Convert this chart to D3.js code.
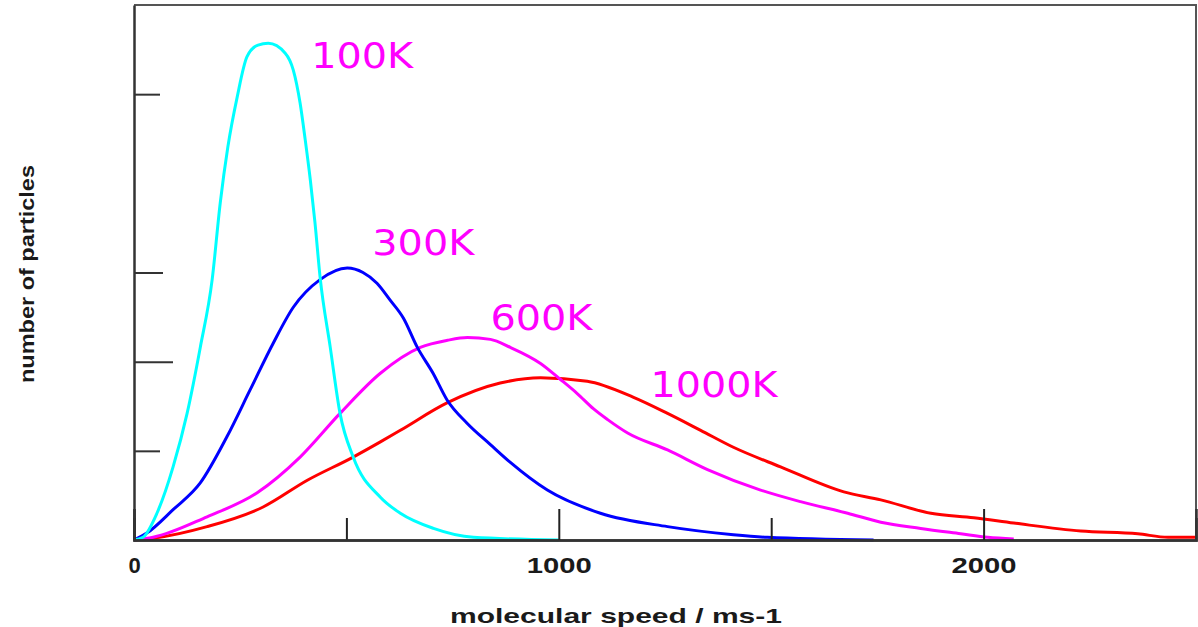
<!DOCTYPE html>
<html>
<head>
<meta charset="utf-8">
<script src="https://cdn.jsdelivr.net/npm/d3@7"></script>
<style>
  body { margin: 0; background: #fff; }
  svg { display: block; }
</style>
</head>
<body>
<svg width="1198" height="627"></svg>
<script>
// speeds (m/s) and relative particle counts
var speed100 = [0, 21, 54, 92, 125, 156, 184, 203, 221, 243, 266, 292, 316, 356, 375, 391, 403, 415, 426, 438, 462, 485, 516, 580, 627, 705, 799, 1000];
var count100 = [0, 0.03, 0.30, 0.82, 1.42, 2.16, 2.92, 3.78, 4.41, 4.97, 5.42, 5.55, 5.57, 5.46, 5.27, 4.90, 4.49, 4.04, 3.56, 2.95, 2.16, 1.42, 0.93, 0.48, 0.30, 0.13, 0.03, 0];

var speed300 = [0, 31, 92, 156, 219, 273, 328, 375, 438, 502, 539, 572, 603, 634, 667, 704, 737, 784, 839, 886, 973, 1098, 1256, 1411, 1491, 1741];
var count300 = [0, 0.08, 0.34, 0.64, 1.16, 1.68, 2.21, 2.61, 2.92, 3.05, 3.00, 2.88, 2.69, 2.49, 2.16, 1.87, 1.57, 1.31, 1.07, 0.87, 0.56, 0.30, 0.15, 0.06, 0.03, 0];

var speed600 = [0, 45, 172, 290, 391, 485, 580, 674, 738, 785, 839, 886, 957, 1004, 1044, 1082, 1115, 1162, 1256, 1350, 1475, 1569, 1680, 1758, 1852, 1946, 2010, 2071];
var count600 = [0, 0.03, 0.26, 0.53, 0.93, 1.42, 1.87, 2.16, 2.24, 2.27, 2.25, 2.16, 1.98, 1.80, 1.64, 1.47, 1.35, 1.20, 1.01, 0.79, 0.56, 0.43, 0.30, 0.20, 0.13, 0.07, 0.03, 0.01];

var speed1000 = [0, 45, 172, 304, 408, 516, 580, 627, 738, 862, 957, 1067, 1176, 1256, 1334, 1411, 1522, 1671, 1758, 1876, 1977, 2071, 2229, 2363, 2434, 2500];
var count1000 = [0, 0.02, 0.15, 0.37, 0.67, 0.93, 1.10, 1.23, 1.54, 1.76, 1.82, 1.78, 1.60, 1.42, 1.23, 1.04, 0.82, 0.54, 0.45, 0.30, 0.25, 0.19, 0.10, 0.07, 0.03, 0.03];

var seriesNames = ["100K", "300K", "600K", "1000K"];
var seriesColors = ["#00ffff", "#0000ff", "#ff00ff", "#ff0000"];
// where each label starts (speed, count)
var labelAt = [[417, 5.29], [561, 3.20], [839, 2.36], [1216, 1.60]];

var xMajor = [0, 1000, 2000];
var xMinor = [500, 1500];
var yTicks = [1, 2, 3, 5];

var svg = d3.select("svg"),
    margin = {top: 5, right: 2, bottom: 87, left: 134},
    width = +svg.attr("width") - margin.left - margin.right,
    height = +svg.attr("height") - margin.top - margin.bottom;

var x = d3.scaleLinear().domain([0, 2500]).range([0, width]);
var y = d3.scaleLinear().domain([0, 6]).range([height, 0]);

var g = svg.append("g")
    .attr("transform", "translate(" + margin.left + "," + margin.top + ")");

// frame (top + right)
g.append("path")
    .attr("d", "M0,0H" + x(2500) + "V" + y(0))
    .attr("fill", "none")
    .attr("stroke", "#555")
    .attr("stroke-width", 2);

var all = [
  {name: seriesNames[0], color: seriesColors[0], sp: speed100, n: count100},
  {name: seriesNames[1], color: seriesColors[1], sp: speed300, n: count300},
  {name: seriesNames[2], color: seriesColors[2], sp: speed600, n: count600},
  {name: seriesNames[3], color: seriesColors[3], sp: speed1000, n: count1000}
];

var line = d3.line()
    .x(function(d) { return x(d[0]); })
    .y(function(d) { return y(d[1]); })
    .curve(d3.curveMonotoneX);

// hottest first so cyan ends on top like the original
all.slice().reverse().forEach(function(s) {
  g.append("path")
      .datum(d3.zip(s.sp, s.n))
      .attr("fill", "none")
      .attr("stroke", s.color)
      .attr("stroke-width", 3)
      .attr("stroke-linejoin", "round")
      .attr("d", line);
});

// x axis: minor ticks, then major ticks with labels
var xMin = g.append("g")
    .attr("transform", "translate(0," + height + ")")
    .call(d3.axisBottom(x).tickValues(xMinor).tickSize(-22).tickFormat(""));
var xMaj = g.append("g")
    .attr("transform", "translate(0," + height + ")")
    .call(d3.axisBottom(x).tickValues(xMajor).tickSize(-31).tickPadding(14).tickFormat(d3.format("d")));
[xMin, xMaj].forEach(function(a) {
  a.select(".domain").attr("stroke", "#333").attr("stroke-width", 2.5);
  a.selectAll(".tick line").attr("stroke", "#222").attr("stroke-width", 2);
});
xMaj.selectAll(".tick text")
    .attr("fill", "#1a1a1a")
    .attr("y", 17)
    .style("font", "bold 22px 'Liberation Sans', Arial, sans-serif")
    .attr("textLength", function(d) { return d === 0 ? null : 65; })
    .attr("lengthAdjust", "spacingAndGlyphs");

// y axis: ticks point inwards, no labels
var yAx = g.append("g")
    .call(d3.axisLeft(y).tickValues(yTicks).tickSize(-27).tickFormat("").tickSizeOuter(0));
yAx.select(".domain").attr("stroke", "#333").attr("stroke-width", 2.5);
yAx.selectAll(".tick line")
    .attr("stroke", "#333").attr("stroke-width", 2)
    .attr("x2", function(d) { return d === 2 ? 39 : (d === 3 ? 29 : 26); });

// series labels
g.selectAll(".lbl")
    .data(all)
  .enter().append("text")
    .attr("class", "lbl")
    .attr("x", function(d, i) { return x(labelAt[i][0]); })
    .attr("y", function(d, i) { return y(labelAt[i][1]); })
    .attr("fill", "#ff00ff")
    .attr("textLength", function(d) { return d.name.length === 5 ? 127 : 102; })
    .attr("lengthAdjust", "spacingAndGlyphs")
    .style("font", "35px 'DejaVu Sans', sans-serif")
    .text(function(d) { return d.name; });

// axis titles
svg.append("text")
    .attr("x", 616)
    .attr("y", 623)
    .attr("text-anchor", "middle")
    .attr("fill", "#1a1a1a")
    .attr("textLength", 332)
    .attr("lengthAdjust", "spacingAndGlyphs")
    .style("font", "bold 21px 'Liberation Sans', Arial, sans-serif")
    .text("molecular speed / ms-1");

svg.append("text")
    .attr("transform", "translate(34,274) rotate(-90)")
    .attr("text-anchor", "middle")
    .attr("fill", "#1a1a1a")
    .attr("textLength", 218)
    .attr("lengthAdjust", "spacingAndGlyphs")
    .style("font", "bold 21px 'Liberation Sans Narrow', 'Liberation Sans', sans-serif")
    .text("number of particles");
</script>
</body>
</html>
